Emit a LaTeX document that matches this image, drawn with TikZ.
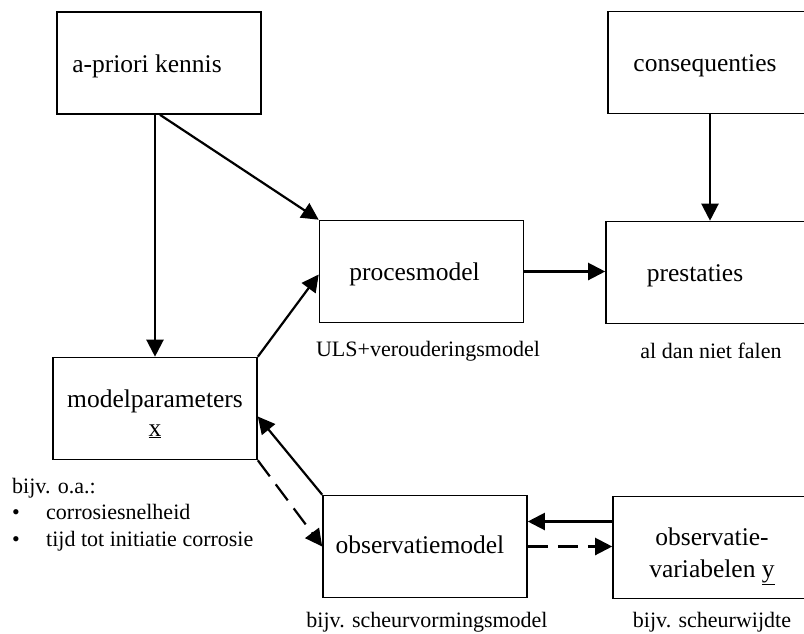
\documentclass[tikz,border=0pt]{standalone}
\usepackage{fontspec}
\setmainfont{Liberation Serif}
\usetikzlibrary{arrows.meta}

\begin{document}
\begin{tikzpicture}[x=1pt,y=-1pt,
    blok/.style={draw, line width=1.6pt, minimum width=204pt, minimum height=102pt,
        inner sep=0pt, font=\fontsize{25.5pt}{31pt}\selectfont},
    enkel/.style={blok, text height=22pt, text depth=4pt},
    onderschrift/.style={inner sep=0pt, font=\fontsize{22pt}{26.5pt}\selectfont},
    pijl/.style={line width=2.2pt, -{Triangle[length=17pt,width=17pt]}},
    stippelpijl/.style={pijl, dash pattern=on 20pt off 10pt}]
    \useasboundingbox (0,0) rectangle (804,633);
    \clip (0,0) rectangle (804,633);

    % Kennis en gevolgen
    \node[enkel] (apriori) at (159,63) {a-priori kennis\hspace*{24pt}};
    \node[enkel] (consequenties) at (710,62.5) {consequenties\hspace*{10pt}};

    % Procesmodel en prestaties
    \node[enkel] (procesmodel) at (421.5,271.5) {procesmodel\hspace*{14pt}};
    \node[enkel] (prestaties) at (708,272.5) {prestaties\hspace*{26pt}};
    \node[onderschrift] (uls) at (428,351) {ULS+verouderingsmodel};
    \node[onderschrift] (falen) at (711,351) {al dan niet falen};

    % Modelparameters
    \node[blok, text height=18pt, text depth=21pt] (parameters) at (155,408.5)
        {\begin{tabular}[t]{@{}c@{}}modelparameters\\[-2pt]\underline{x}\end{tabular}};
    \node[onderschrift, anchor=north west, align=left] (voorbeeld) at (12,478)
        {bijv. o.a.:\\
         \makebox[34pt][l]{\textbullet}corrosiesnelheid\\
         \makebox[34pt][l]{\textbullet}tijd tot initiatie corrosie};

    % Observaties
    \node[enkel, text height=19pt, text depth=6pt] (obsmodel) at (425,546.5) {observatiemodel\hspace*{10pt}};
    \node[blok, text height=18pt, text depth=23pt] (obsvar) at (715,547.5)
        {\begin{tabular}[t]{@{}c@{}}observatie-\\[1pt]variabelen \underline{y}\end{tabular}\hspace*{6pt}};
    \node[onderschrift] (scheurmodel) at (427,622) {bijv. scheurvormingsmodel};
    \node[onderschrift] (scheurwijdte) at (712,622) {bijv. scheurwijdte};

    % Verbindingen
    \draw[pijl] (parameters.north |- apriori.south) -- (parameters.north);
    \draw[pijl] ([xshift=1pt]apriori.south) -- (procesmodel.north west);
    \draw[pijl] (consequenties.south) -- (prestaties.north -| consequenties.south);
    \draw[pijl] (procesmodel.east) -- (prestaties.west |- procesmodel.east);
    \draw[pijl] (parameters.north east) -- ([yshift=-3pt]procesmodel.west);
    \draw[pijl] (obsmodel.north west) -- ([yshift=-8pt]parameters.east);
    \draw[stippelpijl] (parameters.south east) -- (obsmodel.west);
    \draw[pijl] ([yshift=26pt]obsvar.west) -- ([yshift=26pt]obsvar.west -| obsmodel.east);
    \draw[stippelpijl] (obsmodel.east) -- (obsvar.west |- obsmodel.east);
\end{tikzpicture}
\end{document}
